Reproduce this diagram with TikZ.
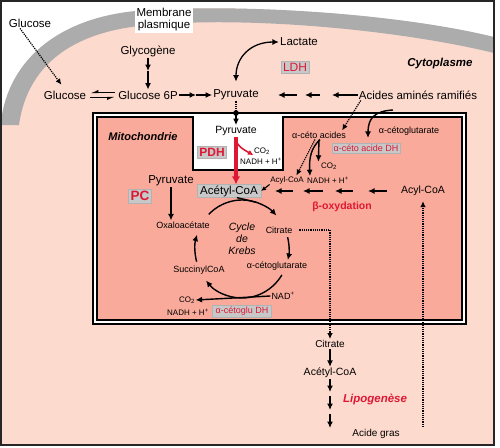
\documentclass[tikz,border=0pt]{standalone}
\usepackage{fontspec}
\setmainfont{Liberation Sans}
\usepackage{tikz}
\usetikzlibrary{positioning,arrows.meta,calc}

\definecolor{cyto}{RGB}{253,218,206}
\definecolor{mito}{RGB}{250,170,154}
\definecolor{memb}{RGB}{172,172,172}
\definecolor{enzred}{RGB}{222,24,52}
\definecolor{enzbox}{RGB}{200,200,200}

\newcommand{\txtmain}{\fontsize{11.5}{12}\selectfont}
\newcommand{\txtmid}{\fontsize{10.5}{12}\selectfont}
\newcommand{\txtsmall}{\fontsize{9}{11}\selectfont}
\newcommand{\txttiny}{\fontsize{8}{9}\selectfont}

\begin{document}
\begin{tikzpicture}[x=1pt, y=-1pt,
        lbl/.style={inner sep=1pt, font=\txtmain},
        mid/.style={inner sep=1pt, font=\txtmid},
        sml/.style={inner sep=1pt, font=\txtsmall},
        tny/.style={inner sep=0.5pt, font=\txttiny},
        enz/.style={rectangle, fill=enzbox, draw=black!30, text=enzred, inner sep=2pt},
        arr/.style={line width=1.4pt, -{Latex[length=6.5pt,width=6pt]}},
        dotarr/.style={line width=1.2pt, densely dotted, -{Latex[length=6pt,width=5.5pt]}}]

        \useasboundingbox (0,0) rectangle (500,447);
        \fill[white] (0,0) rectangle (500,447);

        % cell and membrane
        \fill[cyto] (1,1) rectangle (494,445);
        \fill[white] (1,1) -- (1,122) .. controls (8,60) and (60,14) .. (150,10) .. controls (250,4) and (400,14) .. (494,37) -- (494,1) -- cycle;
        \fill[memb] (1,122) .. controls (8,60) and (60,14) .. (150,10) .. controls (250,4) and (400,14) .. (494,37) -- (494,53) .. controls (400,30) and (250,16) .. (150,25) .. controls (80,30) and (28,60) .. (19,125) -- (1,125) -- cycle;
        \draw[line width=1.5pt, black!85] (1,1) rectangle (494,445);

        % mitochondrie
        \draw[line width=2pt, fill=white] (93,113) rectangle (466,324);
        \draw[line width=1.2pt, fill=mito] (97,117) -- (193,117) -- (193,170) -- (283,170) -- (283,117) -- (462,117) -- (462,320) -- (97,320) -- cycle;

        \node (glucext) [lbl] at (30,23) {Glucose};
        \node (membrane) [lbl, fill=white, align=center, inner sep=2pt] at (164,20) {Membrane\\plasmique};
        \node (glycogene) [lbl] at (148,51) {Glycogène};
        \node (glucose) [lbl] at (65,95) {Glucose};
        \node (g6p) [lbl] at (148,95) {Glucose 6P};
        \node (pyrcyt) [lbl] at (236,95) {Pyruvate};
        \node (lactate) [lbl] at (299,42) {Lactate};
        \node (ldh) [enz, font=\fontsize{12}{14}\selectfont] at (295,67) {LDH};
        \node (cyto) [font=\bfseries\itshape\txtmain] at (440,64) {Cytoplasme};
        \node (acides) [lbl] at (418,95) {Acides aminés ramifiés};

        \node (mitolbl) [font=\bfseries\itshape\fontsize{11}{13}\selectfont] at (143,137) {Mitochondrie};
        \node (pyrmito) [mid] at (236,131) {Pyruvate};
        \node (pdh) [enz, font=\bfseries\fontsize{12}{14}\selectfont] at (212,152) {PDH};
        \node (co2a) [tny] at (262,151) {CO\textsubscript{2}};
        \node (nadha) [tny] at (261,161) {NADH + H\textsuperscript{+}};
        \node (acetyl) [enz, text=black, font=\txtmain, inner xsep=3pt, inner ysep=1pt] at (229,191) {Acétyl-CoA};
        \node (pyrleft) [lbl] at (171,181) {Pyruvate};
        \node (pc) [enz, font=\bfseries\fontsize{13.5}{15}\selectfont] at (140,196) {PC};
        \node (oxalo) [sml] at (183,225) {Oxaloacétate};
        \node (krebs) [font=\itshape\txtmid, align=center, inner sep=0pt] at (242,239) {Cycle\\de\\Krebs};
        \node (citin) [sml] at (279,230) {Citrate};
        \node (akgin) [sml] at (277,266) {α-cétoglutarate};
        \node (succ) [sml] at (199,270) {SuccinylCoA};
        \node (nad) [sml] at (283,296) {NAD\textsuperscript{+}};
        \node (co2b) [tny] at (187,300) {CO\textsubscript{2}};
        \node (nadhb) [tny] at (188,312) {NADH + H\textsuperscript{+}};
        \node (akgdh) [enz, font=\txtsmall, inner ysep=1.5pt, inner xsep=3pt] at (242,311) {α-cétoglu DH};
        \node (ketoac) [sml] at (319,135) {α-céto acides};
        \node (akgright) [sml] at (409,131) {α-cétoglutarate};
        \node (kadh) [enz, font=\txtsmall, inner sep=1.5pt] at (366,148) {α-céto acide DH};
        \node (co2c) [tny] at (329,166) {CO\textsubscript{2}};
        \node (nadhc) [tny] at (328,180) {NADH + H\textsuperscript{+}};
        \node (acylsm) [tny] at (287,180) {Acyl-CoA};
        \node (acyl) [mid] at (423,191) {Acyl-CoA};
        \node (beta) [font=\bfseries\txtmid, text=enzred] at (342,207) {β-oxydation};

        \node (citout) [mid, font=\fontsize{10}{12}\selectfont] at (330,344) {Citrate};
        \node (acetout) [mid] at (330,373) {Acétyl-CoA};
        \node (lipo) [font=\bfseries\itshape\txtmain, text=enzred] at (375,399) {Lipogenèse};
        \node (acidegras) [mid, font=\fontsize{10}{12}\selectfont] at (376,434) {Acide gras};

        % cytoplasme
        \draw[dotarr, shorten >=6pt] ([xshift=-10pt]glucext.south) -- (glucose.north);
        \draw[line width=1.3pt, shorten <=2pt, shorten >=3pt, -{Latex[harpoon,swap,length=6pt,width=5.5pt]}] ([yshift=2.5pt]g6p.west) -- ([yshift=2.5pt]glucose.east);
        \draw[line width=1.3pt, shorten <=3pt, shorten >=2pt, -{Latex[harpoon,swap,length=6pt,width=5.5pt]}] ([yshift=-2.5pt]glucose.east) -- ([yshift=-2.5pt]g6p.west);
        \coordinate (glymid) at (148,71);
        \draw[arr] (glycogene.south) -- (glymid);
        \draw[arr] (glymid) -- (g6p.north);
        \coordinate (g6pmid) at (196,95);
        \draw[arr] (g6p.east) -- (g6pmid);
        \draw[arr] (g6pmid) -- (pyrcyt.west);
        \draw[line width=1.3pt, shorten <=7pt, {Latex[length=6.5pt,width=6pt]}-{Latex[length=6.5pt,width=6pt]}] (pyrcyt.north) .. controls (236,58) and (250,42) .. (lactate.west);
        \coordinate (aa1) at (278,95);
        \coordinate (aa2) at (297,95);
        \coordinate (aa3) at (305,95);
        \coordinate (aa4) at (320,95);
        \coordinate (aa5) at (332,95);
        \draw[arr] (aa2) -- (aa1);
        \draw[arr] (aa4) -- (aa3);
        \draw[arr] (acides.west) -- (aa5);

        % entree dans la mitochondrie
        \coordinate (mitodot) at (236,113);
        \draw[line width=1.2pt, densely dotted] (pyrcyt.south) -- (mitodot);
        \fill (mitodot) circle (2.8);
        \draw[arr] (mitodot) -- (pyrmito.north);
        \draw[line width=3.2pt, enzred, -{Latex[length=8pt,width=8.5pt]}] (pyrmito.south) -- (pyrmito.south |- acetyl.north);
        \draw[line width=1.6pt, enzred, -{Latex[length=5.5pt,width=5.5pt]}] ([yshift=-5pt]pyrmito.south) .. controls (241,148) .. (co2a.south west);
        \draw[arr] (pyrleft.south) -- (pyrleft.south |- oxalo.north);

        % cycle de Krebs
        \coordinate (kc) at (242,249);
        \draw[arr] (kc) ++(225:47 and 49) arc[start angle=225, end angle=317, x radius=47, y radius=49];
        \draw[arr] (kc) ++(-14:47 and 49) arc[start angle=-14, end angle=13, x radius=47, y radius=49];
        \draw[arr] (kc) ++(32:47 and 49) arc[start angle=32, end angle=140, x radius=47, y radius=49];
        \draw[arr] (kc) ++(165:47 and 49) arc[start angle=165, end angle=197, x radius=47, y radius=49];
        \draw[line width=1.4pt] ([xshift=8pt]acetyl.south) .. controls (246,200) .. ($(kc)+(288:47 and 49)$);
        \draw[arr] (nad.west) -- (co2b.east);

        % acides amines et beta-oxydation
        \draw[dotarr] ([xshift=3pt]acides.south west) -- ([xshift=-5pt]ketoac.north east);
        \coordinate (akgtop) at (393,110);
        \draw[arr, shorten >=5pt] (akgtop) .. controls (375,111) and (368,118) .. ([xshift=2pt]kadh.north);
        \draw[dotarr] ([xshift=-4pt]ketoac.south) -- ([xshift=-8pt]acylsm.north east);
        \draw[arr] ([xshift=1pt]ketoac.south) .. controls (311,148) and (309,158) .. ([xshift=-18pt]nadhc.north);
        \draw[arr] (ketoac.south) -- ([xshift=-2pt]co2c.north west);
        \draw[line width=1.1pt, -{Latex[length=5pt,width=4.5pt]}] (acylsm.south west) .. controls (268,186) .. (acetyl.east);
        \foreach \n/\x in {b1/275, b2/293, b3/303, b4/323, b5/335, b6/353, b7/368, b8/387}
            \coordinate (\n) at (\x,191);
        \foreach \a/\b in {b2/b1, b4/b3, b6/b5, b8/b7}
            \draw[arr, line width=1.6pt] (\a) -- (\b);
        \coordinate (acylsrc) at (423,427);
        \draw[dotarr, shorten >=4pt] (acylsrc) -- (acyl.south);

        % lipogenese
        \draw[dotarr, shorten <=6pt] (citin.east) -- (citout.north |- citin.east) -- (citout.north);
        \draw[arr] (citout.south) -- (acetout.north);
        \coordinate (lp1) at (330,392);
        \coordinate (lp2) at (330,396);
        \coordinate (lp3) at (330,410);
        \coordinate (lp4) at (330,414);
        \coordinate (lp5) at (330,428);
        \draw[arr] (acetout.south) -- (lp1);
        \draw[arr] (lp2) -- (lp3);
        \draw[arr] (lp4) -- (lp5);
\end{tikzpicture}
\end{document}
